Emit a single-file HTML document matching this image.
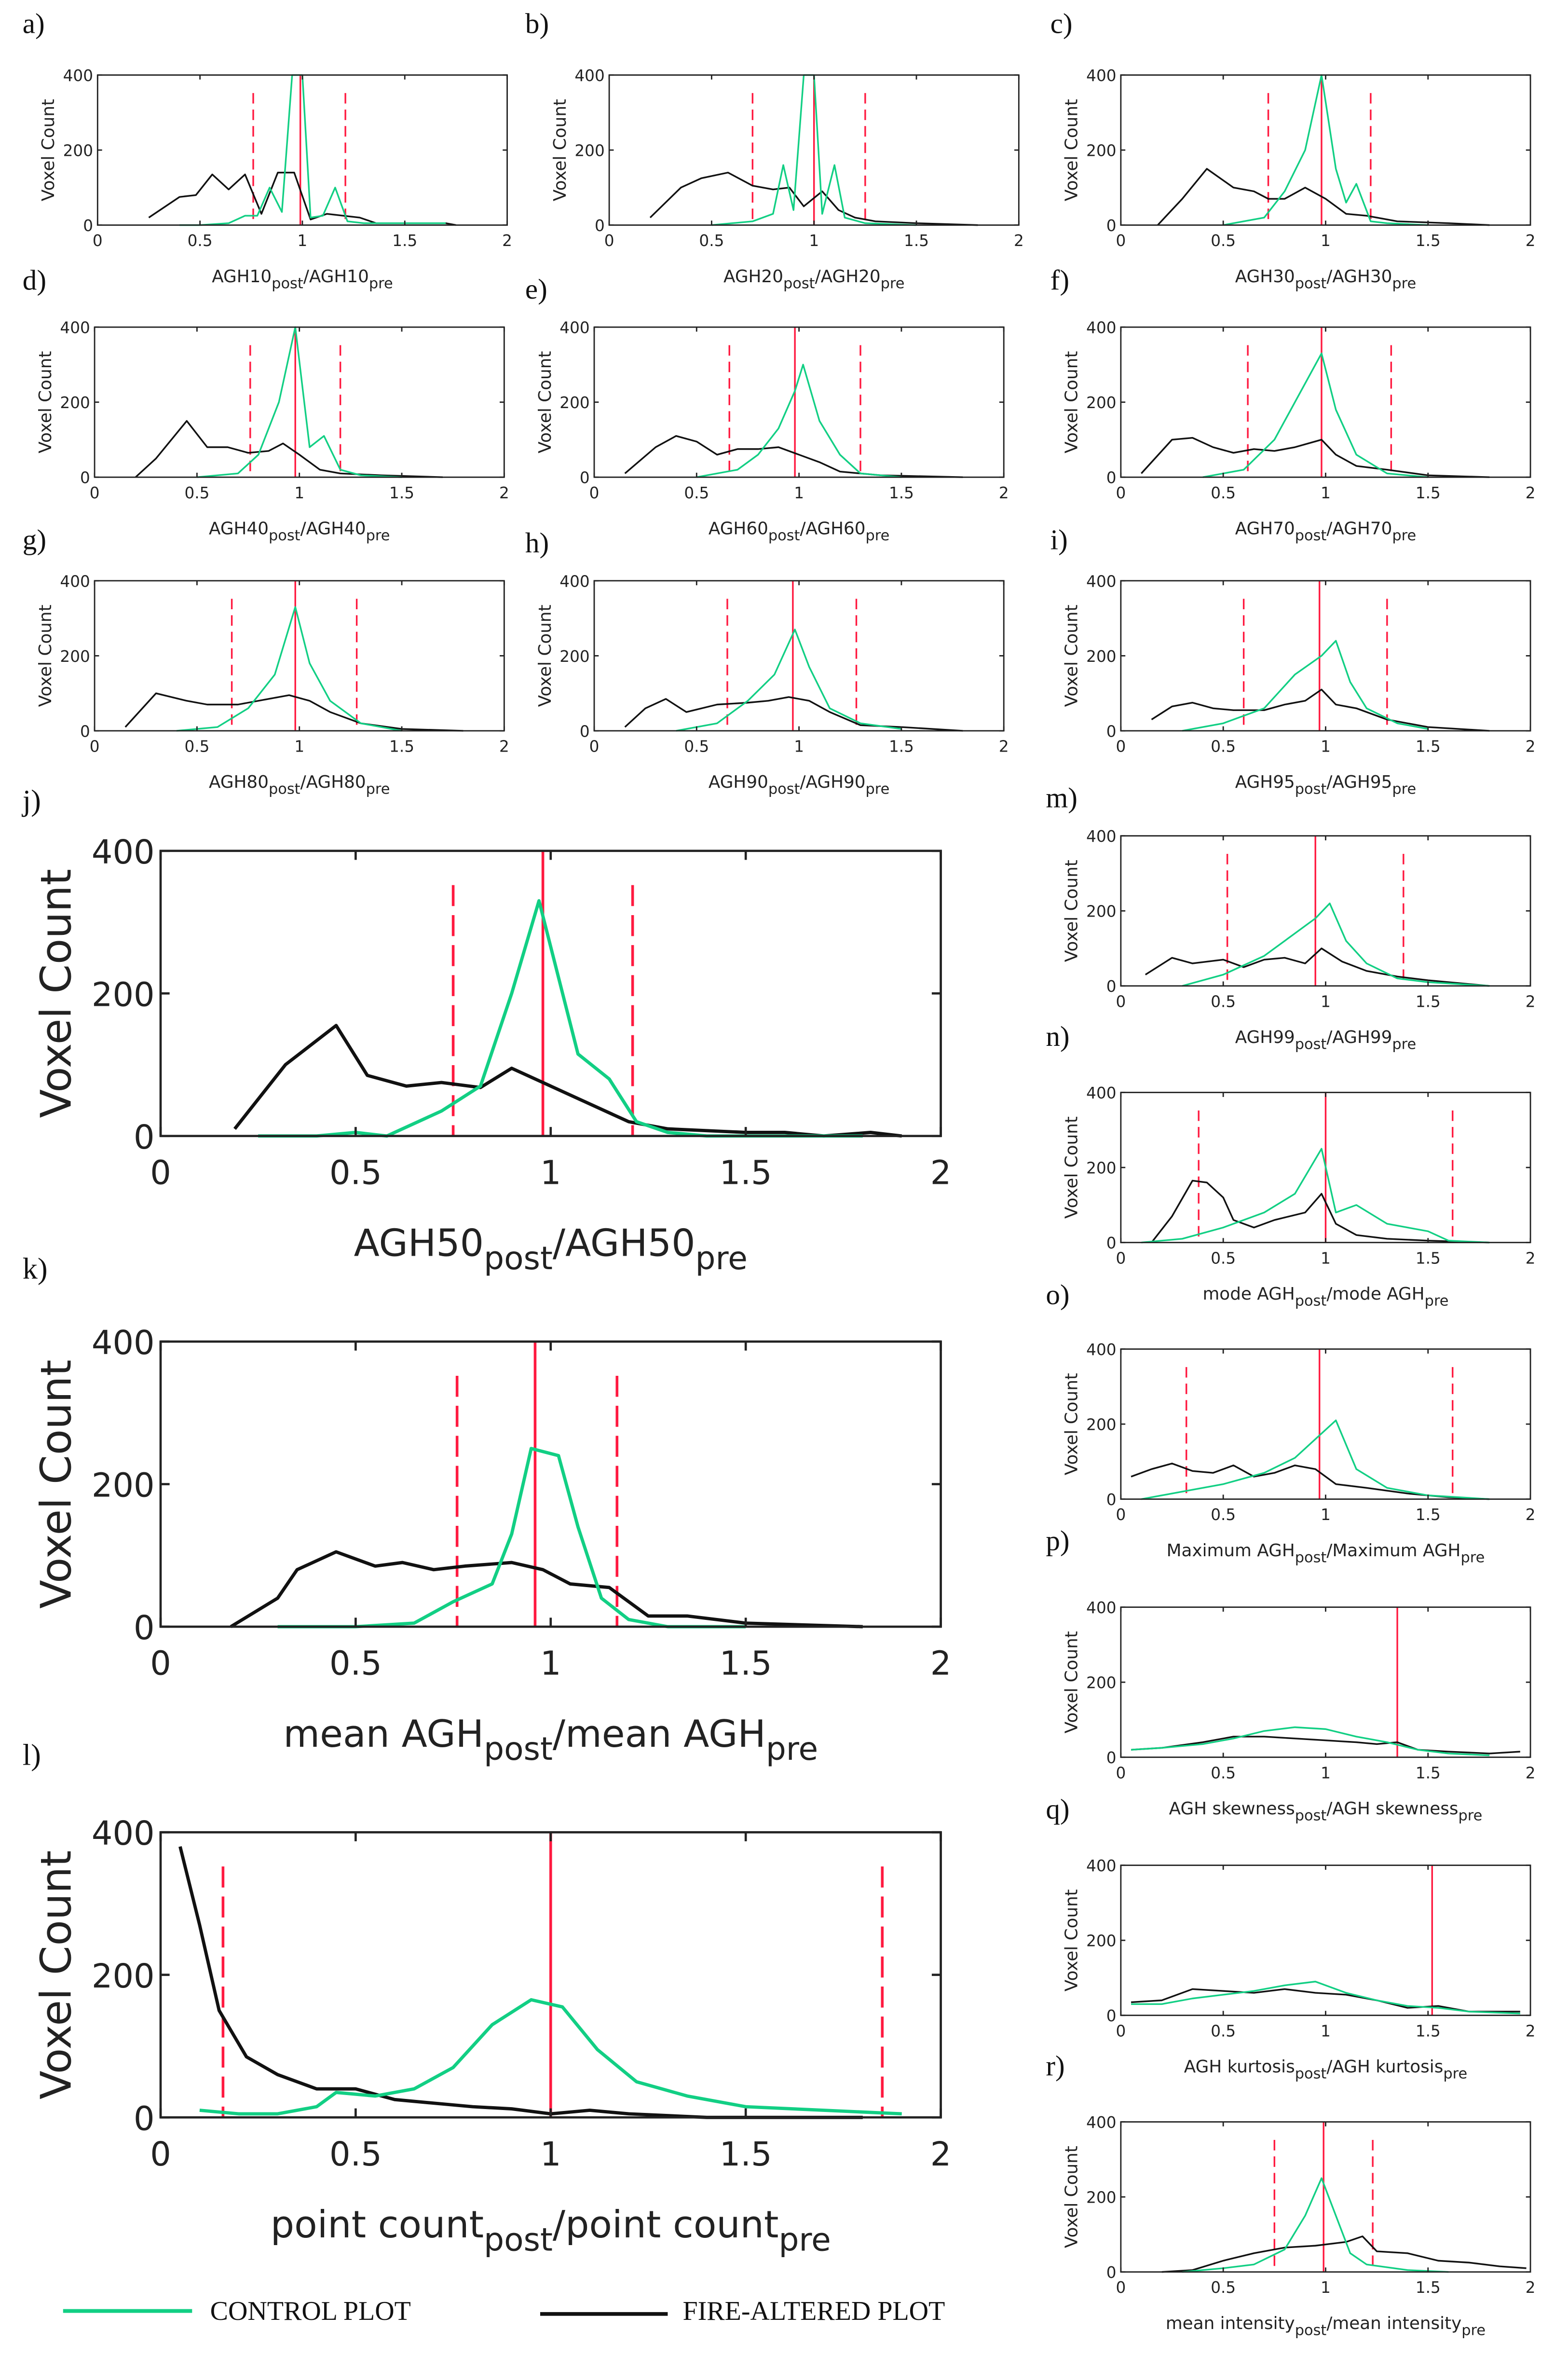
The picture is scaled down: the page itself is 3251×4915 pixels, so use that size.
<!DOCTYPE html>
<html><head><meta charset="utf-8">
<style>
html,body{margin:0;padding:0;background:#fff;}
svg{display:block;}
</style></head>
<body>
<svg id="fig" xmlns="http://www.w3.org/2000/svg" width="3251" height="4915" viewBox="0 0 1045 1580">
<rect width="1045" height="1580" fill="#fff"/>
</svg>
<script>
// ---- data (x ratio bins, voxel counts) ----
const aBx=[0.25,0.4,0.48,0.56,0.64,0.72,0.8,0.88,0.96,1.04,1.12,1.2,1.28,1.36,1.5,1.7,1.75];
const aBy=[20,75,80,135,95,135,30,140,140,15,30,25,20,5,5,5,0];
const aGx=[0.4,0.5,0.64,0.72,0.78,0.84,0.9,0.95,1.0,1.04,1.1,1.16,1.22,1.3,1.5,1.7];
const aGy=[0,0,5,25,25,100,35,400,400,20,25,100,10,5,5,5];
const aRed=[0.76,0.99,1.21];

const bBx=[0.2,0.35,0.45,0.58,0.7,0.8,0.88,0.95,1.04,1.12,1.2,1.3,1.5,1.8];
const bBy=[20,100,125,140,105,95,100,50,90,40,20,10,5,0];
const bGx=[0.5,0.7,0.8,0.85,0.9,0.95,1.0,1.04,1.1,1.15,1.25,1.5];
const bGy=[0,10,30,160,40,400,400,30,160,20,5,0];
const bRed=[0.7,1.0,1.25];

const cBx=[0.18,0.3,0.42,0.55,0.65,0.72,0.8,0.9,1.0,1.1,1.2,1.35,1.6,1.8];
const cBy=[0,70,150,100,90,70,70,100,70,30,25,10,5,0];
const cGx=[0.5,0.7,0.8,0.9,0.98,1.05,1.1,1.15,1.22,1.3,1.5];
const cGy=[0,20,90,200,400,150,60,110,10,5,0];
const cRed=[0.72,0.98,1.22];

const dBx=[0.2,0.3,0.45,0.55,0.65,0.75,0.85,0.92,1.0,1.1,1.2,1.4,1.7];
const dBy=[0,50,150,80,80,65,70,90,60,20,10,5,0];
const dGx=[0.5,0.7,0.8,0.9,0.98,1.05,1.12,1.2,1.3,1.5];
const dGy=[0,10,60,200,400,80,110,20,5,0];
const dRed=[0.76,0.98,1.2];

const eBx=[0.15,0.3,0.4,0.5,0.6,0.7,0.8,0.9,1.0,1.1,1.2,1.4,1.8];
const eBy=[10,80,110,95,60,75,75,80,60,40,15,5,0];
const eGx=[0.5,0.7,0.8,0.9,0.98,1.02,1.1,1.2,1.3,1.5];
const eGy=[0,20,60,130,230,300,150,60,10,0];
const eRed=[0.66,0.98,1.3];

const fBx=[0.1,0.25,0.35,0.45,0.55,0.65,0.75,0.85,0.98,1.05,1.15,1.3,1.5,1.8];
const fBy=[10,100,105,80,65,75,70,80,100,60,30,20,5,0];
const fGx=[0.4,0.6,0.75,0.9,0.98,1.05,1.15,1.3,1.5];
const fGy=[0,20,100,250,330,180,60,10,0];
const fRed=[0.62,0.98,1.32];

const gBx=[0.15,0.3,0.45,0.55,0.7,0.85,0.95,1.05,1.15,1.3,1.5,1.8];
const gBy=[10,100,80,70,70,85,95,80,50,20,5,0];
const gGx=[0.4,0.6,0.75,0.88,0.98,1.05,1.15,1.3,1.5];
const gGy=[0,10,60,150,330,180,80,20,0];
const gRed=[0.67,0.98,1.28];

const hBx=[0.15,0.25,0.35,0.45,0.6,0.75,0.85,0.95,1.05,1.15,1.3,1.5,1.8];
const hBy=[10,60,85,50,70,75,80,90,80,50,15,10,0];
const hGx=[0.4,0.6,0.75,0.88,0.98,1.05,1.15,1.3,1.5];
const hGy=[0,20,80,150,270,170,60,20,5];
const hRed=[0.65,0.97,1.28];

const iBx=[0.15,0.25,0.35,0.45,0.55,0.7,0.8,0.9,0.98,1.05,1.15,1.3,1.5,1.8];
const iBy=[30,65,75,60,55,55,70,80,110,70,60,30,10,0];
const iGx=[0.3,0.5,0.7,0.85,0.98,1.05,1.12,1.2,1.35,1.5];
const iGy=[0,20,60,150,200,240,130,60,20,5];
const iRed=[0.6,0.97,1.3];

const mBx=[0.12,0.25,0.35,0.5,0.6,0.7,0.8,0.9,0.98,1.08,1.2,1.35,1.5,1.8];
const mBy=[30,75,60,70,50,70,75,60,100,65,40,25,15,0];
const mGx=[0.3,0.5,0.7,0.85,0.95,1.02,1.1,1.2,1.35,1.5,1.8];
const mGy=[0,30,80,140,180,220,120,60,20,10,0];
const mRed=[0.52,0.95,1.38];

const nBx=[0.15,0.25,0.35,0.42,0.5,0.55,0.65,0.75,0.9,0.98,1.05,1.15,1.3,1.5,1.8];
const nBy=[0,70,165,160,120,60,40,60,80,130,50,20,10,5,0];
const nGx=[0.1,0.3,0.5,0.7,0.85,0.98,1.05,1.15,1.3,1.5,1.6,1.8];
const nGy=[0,10,40,80,130,250,80,100,50,30,5,0];
const nRed=[0.38,1.0,1.62];

const oBx=[0.05,0.15,0.25,0.35,0.45,0.55,0.65,0.75,0.85,0.95,1.05,1.2,1.4,1.6,1.8];
const oBy=[60,80,95,75,70,90,60,70,90,80,40,30,15,5,0];
const oGx=[0.1,0.3,0.5,0.7,0.85,0.95,1.05,1.15,1.3,1.5,1.8];
const oGy=[0,20,40,70,110,160,210,80,30,10,0];
const oRed=[0.32,0.97,1.62];

const pBx=[0.05,0.2,0.4,0.55,0.7,0.85,1.0,1.15,1.25,1.35,1.45,1.6,1.8,1.95];
const pBy=[20,25,40,55,55,50,45,40,35,40,20,15,10,15];
const pGx=[0.05,0.2,0.4,0.55,0.7,0.85,1.0,1.15,1.3,1.45,1.6,1.8];
const pGy=[20,25,35,50,70,80,75,55,40,20,10,5];
const pRed=[1.35];

const qBx=[0.05,0.2,0.35,0.5,0.65,0.8,0.95,1.1,1.25,1.4,1.55,1.7,1.95];
const qBy=[35,40,70,65,60,70,60,55,40,20,25,10,10];
const qGx=[0.05,0.2,0.35,0.5,0.65,0.8,0.95,1.1,1.25,1.4,1.55,1.7,1.95];
const qGy=[30,30,45,55,65,80,90,60,40,25,20,10,5];
const qRed=[1.52];

const rBx=[0.2,0.35,0.5,0.65,0.8,0.95,1.1,1.18,1.25,1.4,1.55,1.7,1.85,1.98];
const rBy=[0,5,30,50,65,70,80,95,55,50,30,25,15,10];
const rGx=[0.3,0.5,0.65,0.8,0.9,0.98,1.05,1.12,1.2,1.4,1.6];
const rGy=[0,10,20,60,150,250,150,50,20,5,0];
const rRed=[0.75,0.99,1.23];

const jBx=[0.19,0.32,0.45,0.53,0.63,0.72,0.82,0.9,0.98,1.08,1.2,1.3,1.5,1.6,1.7,1.82,1.9];
const jBy=[10,100,155,85,70,75,68,95,75,50,20,10,5,5,0,5,0];
const jGx=[0.25,0.4,0.5,0.58,0.72,0.82,0.9,0.97,1.07,1.15,1.22,1.3,1.4,1.8];
const jGy=[0,0,5,0,35,70,200,330,115,80,20,5,0,0];
const jRed=[0.75,0.98,1.21];

const kBx=[0.18,0.3,0.35,0.45,0.55,0.62,0.7,0.78,0.9,0.98,1.05,1.15,1.25,1.35,1.5,1.8];
const kBy=[0,40,80,105,85,90,80,85,90,80,60,55,15,15,5,0];
const kGx=[0.3,0.5,0.65,0.75,0.85,0.9,0.95,1.02,1.07,1.13,1.2,1.3,1.5];
const kGy=[0,0,5,35,60,130,250,240,140,40,10,0,0];
const kRed=[0.76,0.96,1.17];

const lBx=[0.05,0.1,0.15,0.22,0.3,0.4,0.5,0.6,0.7,0.8,0.9,1.0,1.1,1.2,1.4,1.8];
const lBy=[380,270,150,85,60,40,40,25,20,15,12,5,10,5,0,0];
const lGx=[0.1,0.2,0.3,0.4,0.45,0.55,0.65,0.75,0.85,0.95,1.03,1.12,1.22,1.35,1.5,1.7,1.9];
const lGy=[10,5,5,15,35,30,40,70,130,165,155,95,50,30,15,10,5];
const lRed=[0.16,1.0,1.85];

const xTicks=[0,0.5,1,1.5,2];
const xTickLabels=["0","0.5","1","1.5","2"];
const yTicks=[0,200,400];
const yTickLabels=["0","200","400"];

const svg=document.getElementById('fig');
const NS='http://www.w3.org/2000/svg';
const GREEN='#12cf84', RED='#ff1a40';
function mk(tag,attrs,parent){const e=document.createElementNS(NS,tag);for(const k in attrs)e.setAttribute(k,attrs[k]);(parent||svg).appendChild(e);return e;}

function panel(id,letter,lx,ly,x0,y0,w,h,big,Bx,By,Gx,Gy,red,lblMain,lblPre){
  const g=mk('g',{});
  
  
  const sx=v=>x0+v/2*w, sy=v=>y0+h-v/400*h;
  const fs=big?22:10.5, lw=big?2.2:1.1, sw=big?1.5:0.9;
  const lt=mk('text',{x:lx,y:ly,'font-family':'Liberation Serif, serif','font-size':big?20:19,fill:'#111'},g);
  lt.textContent=letter+')';
  
  
  // red lines
  red.forEach((r,i)=>{
    const solid=(red.length===1)||i===1;
    const ln=mk('line',{x1:sx(r),x2:sx(r),y1:solid?y0:y0+h*0.12,y2:y0+h,stroke:RED,'stroke-width':big?1.8:1.1},g);
    if(!solid)ln.setAttribute('stroke-dasharray',big?'14,6':'7,4');
    
    
  });
  // series
  const pb=mk('polyline',{points:Bx.map((x,i)=>sx(x)+','+sy(By[i])).join(' '),fill:'none',stroke:'#111','stroke-width':lw,'stroke-linejoin':'round'},g);
  
  
  const pg=mk('polyline',{points:Gx.map((x,i)=>sx(x)+','+sy(Gy[i])).join(' '),fill:'none',stroke:GREEN,'stroke-width':lw,'stroke-linejoin':'round'},g);
  
  
  // box
  const bx=mk('rect',{x:x0,y:y0,width:w,height:h,fill:'none',stroke:'#222','stroke-width':sw},g);
  
  
  const tl=big?6:3;
  xTicks.forEach((t,i)=>{
    mk('line',{x1:sx(t),x2:sx(t),y1:y0+h,y2:y0+h-tl,stroke:'#222','stroke-width':sw},g);
    mk('line',{x1:sx(t),x2:sx(t),y1:y0,y2:y0+tl,stroke:'#222','stroke-width':sw},g);
    const tx=mk('text',{x:sx(t),y:y0+h+(big?32:14),'text-anchor':'middle','font-family':'DejaVu Sans, sans-serif','font-size':fs,fill:'#222'},g);
    tx.textContent=xTickLabels[i];
    
    
  });
  yTicks.forEach((t,i)=>{
    mk('line',{x1:x0,x2:x0+tl,y1:sy(t),y2:sy(t),stroke:'#222','stroke-width':sw},g);
    mk('line',{x1:x0+w,x2:x0+w-tl,y1:sy(t),y2:sy(t),stroke:'#222','stroke-width':sw},g);
    const ty=mk('text',{x:x0-(big?4:3),y:sy(t)+fs*0.38,'text-anchor':'end','font-family':'DejaVu Sans, sans-serif','font-size':fs,fill:'#222'},g);
    ty.textContent=yTickLabels[i];
    
    
  });
  const yl=mk('text',{x:0,y:0,'text-anchor':'middle','font-family':'DejaVu Sans, sans-serif','font-size':big?28:11.5,fill:'#222',transform:`translate(${x0-(big?60:29)},${y0+h/2}) rotate(-90)`},g);
  yl.textContent='Voxel Count';
  
  
  const xfs=big?25:11.5;
  const xl=mk('text',{x:x0+w/2,y:y0+h+(big?80:38),'text-anchor':'middle','font-family':'DejaVu Sans, sans-serif','font-size':xfs,fill:'#222'},g);
  
  
  const parts=[[lblMain,0],['post',1],['/'+(lblPre||lblMain),-1],['pre',1]];
  xl.appendChild(document.createTextNode(lblMain));
  const s1=mk('tspan',{dy:xfs*0.35,'font-size':xfs*0.85},xl); s1.textContent='post';
  const s2=mk('tspan',{dy:-xfs*0.35},xl); s2.textContent='/'+(lblPre||lblMain);
  const s3=mk('tspan',{dy:xfs*0.35,'font-size':xfs*0.85},xl); s3.textContent='pre';
}

const L=65, M=399, R=747, W=273, H=100;
panel('a','a',15,22,L,50,W,H,false,aBx,aBy,aGx,aGy,aRed,'AGH10');
panel('b','b',350,22,406,50,W,H,false,bBx,bBy,bGx,bGy,bRed,'AGH20');
panel('c','c',700,22,R,50,W,H,false,cBx,cBy,cGx,cGy,cRed,'AGH30');
panel('d','d',15,193,63,218,W,H,false,dBx,dBy,dGx,dGy,dRed,'AGH40');
panel('e','e',350,199,396,218,W,H,false,eBx,eBy,eGx,eGy,eRed,'AGH60');
panel('f','f',700,193,R,218,W,H,false,fBx,fBy,fGx,fGy,fRed,'AGH70');
panel('g','g',15,366,63,387,W,H,false,gBx,gBy,gGx,gGy,gRed,'AGH80');
panel('h','h',350,368,396,387,W,H,false,hBx,hBy,hGx,hGy,hRed,'AGH90');
panel('i','i',700,366,R,387,W,H,false,iBx,iBy,iGx,iGy,iRed,'AGH95');
panel('m','m',697,538,R,557,W,H,false,mBx,mBy,mGx,mGy,mRed,'AGH99');
panel('n','n',697,697,R,728,W,H,false,nBx,nBy,nGx,nGy,nRed,'mode AGH');
panel('o','o',697,869,R,899,W,H,false,oBx,oBy,oGx,oGy,oRed,'Maximum AGH');
panel('p','p',697,1033,R,1071,W,H,false,pBx,pBy,pGx,pGy,pRed,'AGH skewness');
panel('q','q',697,1212,R,1243,W,H,false,qBx,qBy,qGx,qGy,qRed,'AGH kurtosis');
panel('r','r',697,1383,R,1414,W,H,false,rBx,rBy,rGx,rGy,rRed,'mean intensity');
panel('j','j',15,540,107,567,520,190,true,jBx,jBy,jGx,jGy,jRed,'AGH50');
panel('k','k',15,852,107,894,520,190,true,kBx,kBy,kGx,kGy,kRed,'mean AGH');
panel('l','l',15,1176,107,1221,520,190,true,lBx,lBy,lGx,lGy,lRed,'point count');

// legend
const lg=mk('g',{});


const l1=mk('line',{x1:42,x2:128,y1:1540,y2:1540,stroke:GREEN,'stroke-width':2.5},lg);


const t1=mk('text',{x:140,y:1546,'font-family':'Liberation Serif, serif','font-size':18,fill:'#111'},lg);
t1.textContent='CONTROL PLOT';


const l2=mk('line',{x1:360,x2:445,y1:1542,y2:1542,stroke:'#111','stroke-width':2.5},lg);


const t2=mk('text',{x:455,y:1546,'font-family':'Liberation Serif, serif','font-size':18,fill:'#111'},lg);
t2.textContent='FIRE-ALTERED PLOT';


</script>
</body></html>
